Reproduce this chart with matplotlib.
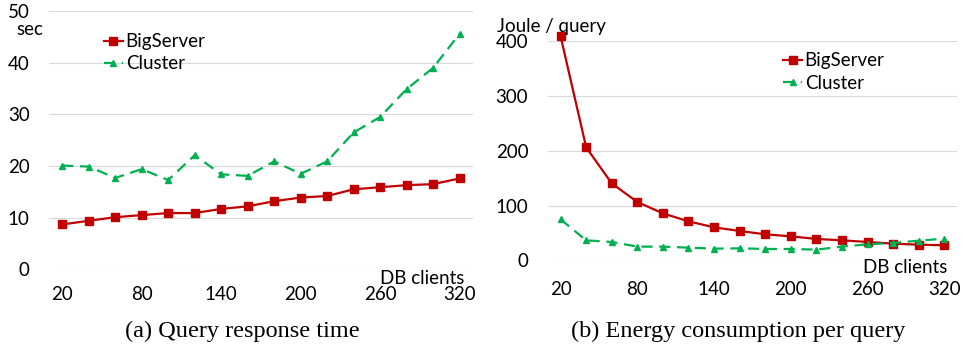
import numpy as np
import matplotlib
matplotlib.use('Agg')
from matplotlib import pyplot as plt

clients = [20, 40, 60, 80, 100, 120, 140, 160, 180, 200, 220, 240, 260, 280, 300, 320]
tick_labels = ['20', '80', '140', '200', '260', '320']

# (a) query response time, sec
time_bigserver = [8.7, 9.4, 10.1, 10.5, 10.9, 10.9, 11.7, 12.2, 13.2, 13.9, 14.2, 15.5, 15.9, 16.3, 16.5, 17.6]
time_cluster = [20.1, 19.9, 17.7, 19.4, 17.3, 22.1, 18.4, 18.1, 20.9, 18.5, 20.9, 26.5, 29.5, 34.9, 39.0, 45.6]

# (b) energy per query, Joule
energy_bigserver = [409.7, 206.4, 140.6, 106.5, 85.8, 71.2, 60.3, 53.6, 47.5, 43.8, 39.0, 36.5, 33.5, 30.4, 28.6, 27.4]
energy_cluster = [74.9, 36.5, 33.5, 25.0, 25.0, 23.1, 21.3, 21.9, 20.7, 20.7, 19.5, 25.0, 29.2, 31.7, 35.9, 39.6]

sans = 'Lato'
serif = 'Liberation Serif'
red = '#C00000'
green = '#00B050'

fig = plt.figure(figsize=(9.61, 3.48), dpi=100)
axa = fig.add_axes([0.051, 0.226, 0.441, 0.742])
axb = fig.add_axes([0.570, 0.252, 0.426, 0.629])

def draw(ax, big, clu, ymax, ystep, ylabel, lab_xy, lab_ha, leg_xy, xpad, dbc_xy):
    x = np.arange(len(clients))
    ax.plot(x, big, '-s', color=red, lw=1.6, markersize=5.5, label='BigServer', clip_on=False, zorder=3)
    ax.plot(x, clu, '--^', color=green, lw=1.6, markersize=4, dashes=(5, 3), label='Cluster', clip_on=False, zorder=3)
    ax.set_xlim(-0.5, len(clients) - 0.5)
    ax.set_ylim(0, ymax)
    ax.set_yticks(np.arange(0, ymax + 1, ystep))
    ax.set_xticks(x[::3])
    ax.set_xticklabels(tick_labels)
    for s in ax.spines.values():
        s.set_visible(False)
    ax.grid(axis='y', color='#d9d9d9', lw=0.8)
    ax.set_axisbelow(True)
    ax.tick_params(axis='y', length=0, pad=14, labelsize=13.5)
    ax.tick_params(axis='x', length=0, pad=xpad, labelsize=13.5)
    for t in ax.get_xticklabels() + ax.get_yticklabels():
        t.set_fontfamily(sans)
    ax.text(lab_xy[0], lab_xy[1], ylabel, transform=ax.transAxes, ha=lab_ha, va='center',
            fontsize=13.5, family=sans)
    ax.text(dbc_xy[0], dbc_xy[1], 'DB clients', transform=ax.transAxes, ha='right', va='center',
            fontsize=13.5, family=sans)
    ax.legend(loc='upper left', bbox_to_anchor=leg_xy, frameon=False, handlelength=1.0,
              handletextpad=0.15, labelspacing=0.28, borderaxespad=0, borderpad=0,
              prop={'family': sans, 'size': 13.5})

draw(axa, time_bigserver, time_cluster, 50, 10, 'sec', (-0.014, 0.93), 'right',
     (0.13, 0.915), 12, (0.981, -0.035))
draw(axb, energy_bigserver, energy_cluster, 400, 100, 'Joule / query', (-0.125, 1.07), 'left',
     (0.575, 0.95), 15, (0.975, -0.035))

fig.text(0.252, 0.048, '(a) Query response time', ha='center', va='center', fontsize=17.5, family=serif)
fig.text(0.768, 0.048, '(b) Energy consumption per query', ha='center', va='center', fontsize=17.5, family=serif)

fig.savefig('out.png', dpi=100)
